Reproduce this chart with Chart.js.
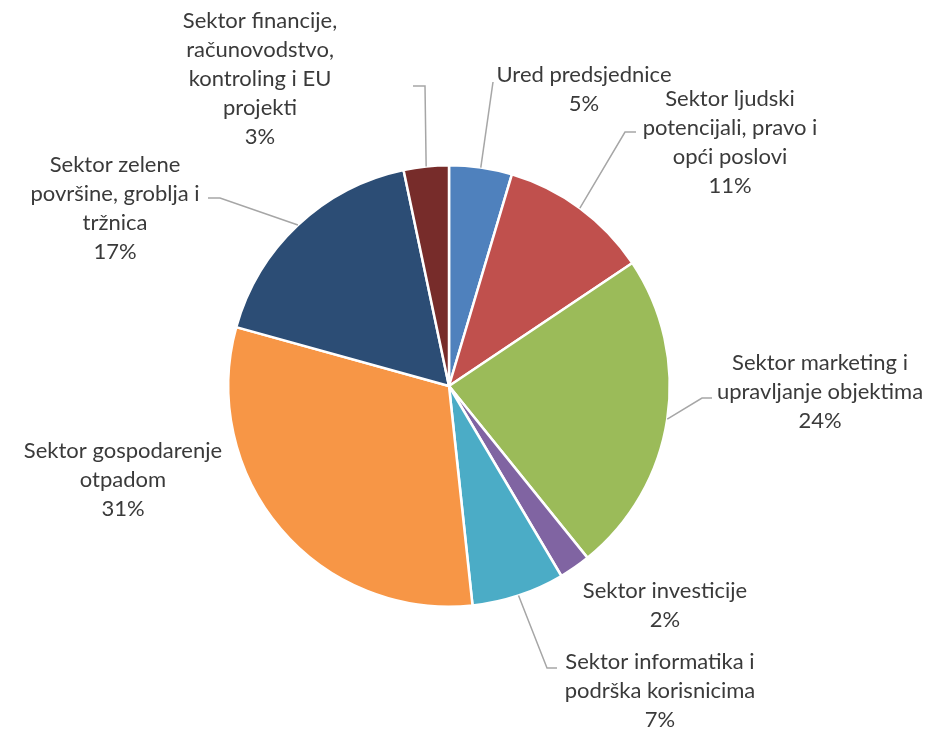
<!DOCTYPE html>
<html>
<head>
<meta charset="utf-8">
<script src="https://cdn.jsdelivr.net/npm/chart.js@4"></script>
<style>
  html, body { margin: 0; padding: 0; background: #fff; }
  #wrap { width: 934px; height: 731px; }
</style>
</head>
<body>
<div id="wrap"><canvas id="c" width="934" height="731"></canvas></div>
<script>
const categories = [
  'Ured predsjednice',
  'Sektor ljudski\npotencijali, pravo i\nopći poslovi',
  'Sektor marketing i\nupravljanje objektima',
  'Sektor investicije',
  'Sektor informatika i\npodrška korisnicima',
  'Sektor gospodarenje\notpadom',
  'Sektor zelene\npovršine, groblja i\ntržnica',
  'Sektor financije,\nračunovodstvo,\nkontroling i EU\nprojekti'
];
const values = [4.6, 11.0, 23.6, 2.3, 6.8, 31.0, 17.4, 3.3];
const colours = ['#4F81BD', '#C0504D', '#9BBB59', '#8064A2', '#4BACC6', '#F79646', '#2C4D75', '#772C2A'];

// label placement, offsets from the pie centre (label block centre, leader elbow, horizontal run)
const labelLayout = [
  {dx: 135, dy: -297, elbow: [44, -304], run: 0},
  {dx: 281, dy: -244, elbow: [176, -254], run: 11},
  {dx: 371, dy: 6, elbow: [253, 12], run: 10},
  {dx: 216, dy: 219, elbow: null},
  {dx: 211, dy: 305, elbow: [98, 282], run: 10},
  {dx: -326, dy: 94, elbow: null},
  {dx: -334, dy: -178, elbow: [-229, -188], run: -12},
  {dx: -189, dy: -307, elbow: [-24, -300], run: -12}
];

const total = values.reduce((a, b) => a + b, 0);
const lineHeight = 29;

const outsideLabels = {
  id: 'outsideLabels',
  afterDraw(chart) {
    const ctx = chart.ctx;
    const meta = chart.getDatasetMeta(0);
    ctx.save();
    meta.data.forEach((arc, i) => {
      const p = arc.getProps(['x', 'y', 'startAngle', 'endAngle', 'outerRadius'], true);
      const mid = (p.startAngle + p.endAngle) / 2;
      const lay = labelLayout[i];
      if (lay.elbow) {
        const sx = p.x + Math.cos(mid) * p.outerRadius;
        const sy = p.y + Math.sin(mid) * p.outerRadius;
        const ex = p.x + lay.elbow[0];
        const ey = p.y + lay.elbow[1];
        ctx.beginPath();
        ctx.strokeStyle = '#A6A6A6';
        ctx.lineWidth = 1.5;
        ctx.moveTo(sx, sy);
        ctx.lineTo(ex, ey);
        if (lay.run) ctx.lineTo(ex + lay.run, ey);
        ctx.stroke();
      }
      const lines = categories[i].split('\n');
      lines.push(Math.round(values[i] / total * 100) + '%');
      ctx.fillStyle = '#3a3a3a';
      ctx.font = '22px Lato';
      ctx.textAlign = 'center';
      ctx.textBaseline = 'middle';
      const cx = p.x + lay.dx;
      const top = p.y + lay.dy - (lines.length - 1) * lineHeight / 2;
      lines.forEach((t, k) => ctx.fillText(t, cx, top + k * lineHeight));
    });
    ctx.restore();
  }
};

new Chart(document.getElementById('c'), {
  type: 'pie',
  data: {
    labels: categories,
    datasets: [{
      data: values,
      backgroundColor: colours,
      borderColor: '#ffffff',
      borderWidth: 2.5
    }]
  },
  options: {
    responsive: false,
    animation: false,
    layout: {
      padding: {left: 227, right: 263, top: 164, bottom: 123}
    },
    plugins: {
      legend: {display: false},
      tooltip: {enabled: false}
    }
  },
  plugins: [outsideLabels]
});
</script>
</body>
</html>
